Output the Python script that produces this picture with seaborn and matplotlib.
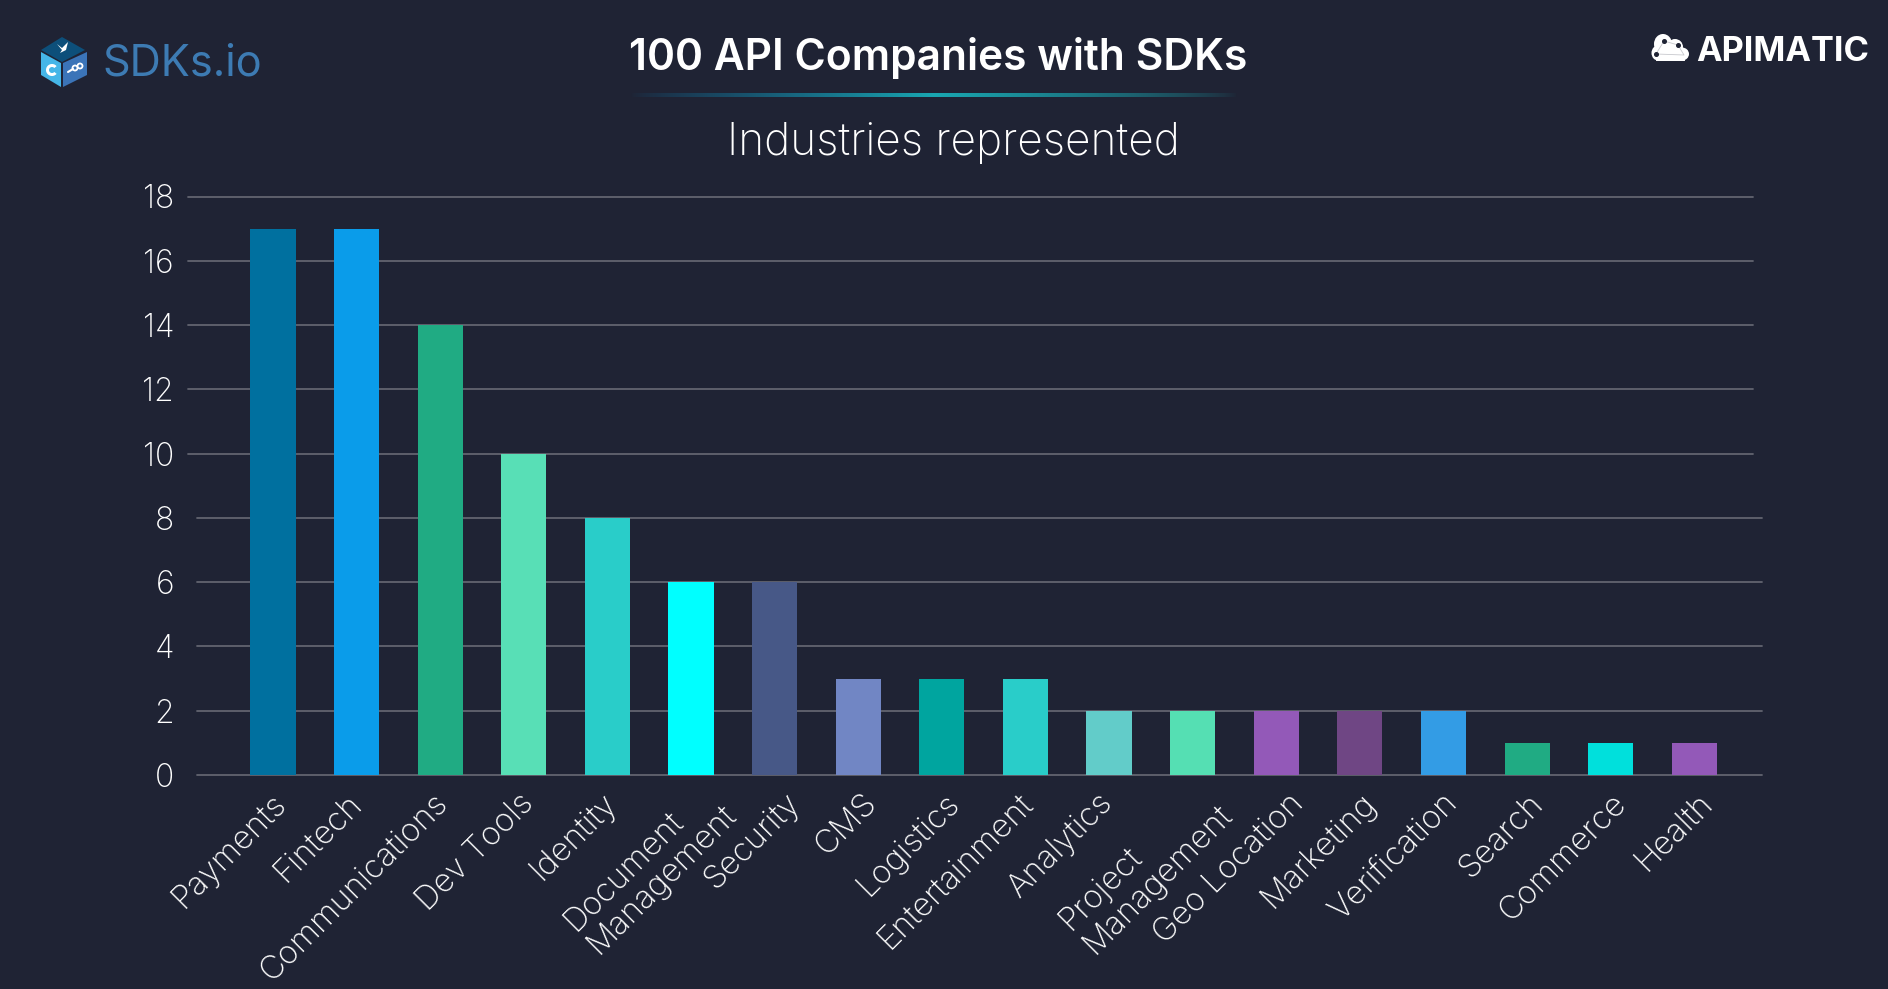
import numpy as np
import pandas as pd
import seaborn as sns
import matplotlib.pyplot as plt
from matplotlib.patches import Polygon, Ellipse, Wedge, Circle
from matplotlib.transforms import ScaledTranslation

industries = ["Payments", "Fintech", "Communications", "Dev Tools", "Identity",
              "Document\nManagement", "Security", "CMS", "Logistics", "Entertainment",
              "Analytics", "Project\nManagement", "Geo Location", "Marketing",
              "Verification", "Search", "Commerce", "Health"]
companies = [17, 17, 14, 10, 8, 6, 6, 3, 3, 3, 2, 2, 2, 2, 2, 1, 1, 1]
bar_colors = ["#00709F", "#0A9CEA", "#20AB83", "#58DFB6", "#29CDC9", "#00FFFF",
              "#475887", "#7186C4", "#00A59F", "#29CDC9", "#62CCC9", "#55DFB3",
              "#9359B8", "#6F4684", "#339CE5", "#20AB83", "#00E0DC", "#9359B8"]
y_ticks = [0, 2, 4, 6, 8, 10, 12, 14, 16, 18]
# the reference labels are not placed evenly, nudge them (pixels)
label_nudge_x = [-2, -10, -8, -6, -6, 6, 10, 3, 2, -8, -12, 0, 12, 0, -2, 1, 0, 3]
label_nudge_y = [0, 0, 0, 0, 0, 12, 0, 0, 0, 0, 0, 12, 0, 0, 0, 0, 0, 0]

BG = "#1F2334"
W, H = 1888, 989

sns.set_theme(style="dark")
plt.rcParams["font.family"] = ["Inter", "DejaVu Sans"]

df = pd.DataFrame({"industry": industries, "companies": companies})

fig = plt.figure(figsize=(W / 100, H / 100), dpi=100, facecolor=BG)
ax = fig.add_axes([188 / W, 1 - 775 / H, (1762 - 188) / W, (775 - 196.5) / H], facecolor=BG)

sns.barplot(data=df, x="industry", y="companies", hue="industry", palette=bar_colors,
            legend=False, width=0.54, saturation=1, linewidth=0, ax=ax, zorder=3)

ax.set_xlim(-1.017, 17.81)
ax.set_ylim(0, 18)
ax.set_yticks(y_ticks)
ax.set_xlabel("")
ax.set_ylabel("")
ax.grid(False)
# upper grid lines sit a bit further left than the lower ones
for v in y_ticks:
    if v >= 10:
        ax.axhline(v, xmin=0, xmax=0.994, color="#62646F", lw=1.3, zorder=1, clip_on=False)
    else:
        ax.axhline(v, xmin=0.006, xmax=1, color="#62646F", lw=1.3, zorder=1, clip_on=False)
for s in ax.spines.values():
    s.set_visible(False)
ax.tick_params(axis="y", length=0, pad=10, labelsize=23, labelcolor="white")
ax.tick_params(axis="x", length=0, pad=9, labelsize=23.5, labelcolor="white")
for lab, dx, dy in zip(ax.get_xticklabels(), label_nudge_x, label_nudge_y):
    lab.set_rotation(45)
    lab.set_ha("right")
    lab.set_va("top")
    lab.set_rotation_mode("anchor")
    lab.set_multialignment("left")
    lab.set_fontweight("light")
    lab.set_linespacing(1.1)
    lab.set_transform(lab.get_transform() + ScaledTranslation(dx / 100, dy / 100, fig.dpi_scale_trans))
for lab in ax.get_yticklabels():
    lab.set_fontweight("light")

# titles
fig.text(938 / W, 1 - 58 / H, "100 API Companies with SDKs", color="white", fontsize=30.6,
         fontweight="semibold", ha="center", va="center")
fig.text(953 / W, 1 - 143 / H, "Industries represented", color="white", fontsize=31.8,
         fontweight="light", ha="center", va="center")

# gradient rule under the title
rule = fig.add_axes([630 / W, 1 - 97 / H, 608 / W, 4 / H])
t = np.linspace(0, 1, 300)
rgba = np.zeros((1, 300, 4))
rgba[..., 0] = 0.05 + 0.05 * np.clip(t * 2, 0, 1)
rgba[..., 1] = 0.42 + 0.24 * np.clip(t * 2, 0, 1)
rgba[..., 2] = 0.62 + 0.08 * np.clip(t * 2, 0, 1)
rgba[..., 3] = np.clip(1 - np.abs(t - 0.5) * 2, 0, 1) ** 0.7
rule.imshow(rgba, aspect="auto")
rule.axis("off")

# logos drawn in pixel coordinates
overlay = fig.add_axes([0, 0, 1, 1], facecolor="none")
overlay.set_xlim(0, W)
overlay.set_ylim(H, 0)
overlay.axis("off")

# SDKs.io cube
overlay.add_patch(Polygon([(62, 37), (85, 50), (62, 62), (41, 50)], color="#0D4F7A", lw=0))
overlay.add_patch(Polygon([(41, 52), (61, 63), (61, 87), (41, 75)], color="#45B6E8", lw=0))
overlay.add_patch(Polygon([(63, 63), (87, 52), (87, 75), (63, 87)], color="#3B74B8", lw=0))
overlay.add_patch(Wedge((52, 70), 6, 40, 320, width=3, color="white", lw=0))
overlay.add_patch(Circle((75, 68), 2.5, fill=False, ec="white", lw=1.3))
overlay.add_patch(Circle((80, 66), 2.5, fill=False, ec="white", lw=1.3))
overlay.plot([68, 73], [72, 69], color="white", lw=1.5)
overlay.add_patch(Polygon([(57, 44), (62, 48), (68, 42), (66, 50), (60, 53), (62, 50)], color="white", lw=0))
fig.text(102 / W, 1 - 64 / H, "SDKs.io", color="#3D7BB3", fontsize=31.2, ha="left", va="center")

# APIMATIC cloud
for cx, cy, rw, rh in [(1663, 44, 18, 20), (1675, 47, 16, 16), (1658, 53, 13, 15),
                       (1682, 54, 14, 13)]:
    overlay.add_patch(Ellipse((cx, cy), rw, rh, color="white", lw=0))
overlay.add_patch(Polygon([(1657, 50), (1684, 50), (1685, 61), (1656, 61)], color="white", lw=0))
overlay.plot([1656, 1664, 1678, 1684, 1656], [54, 41, 45, 55, 54], color="#C8C9CE", lw=0.6)
overlay.plot([1656, 1664, 1678], [54, 41, 45], "o", color=BG, ms=2.6)
fig.text(1696 / W, 1 - 52 / H, "APIMATIC", color="white", fontsize=24.7, fontweight="bold",
         ha="left", va="center")

fig.savefig("out.png", dpi=100, facecolor=BG)
